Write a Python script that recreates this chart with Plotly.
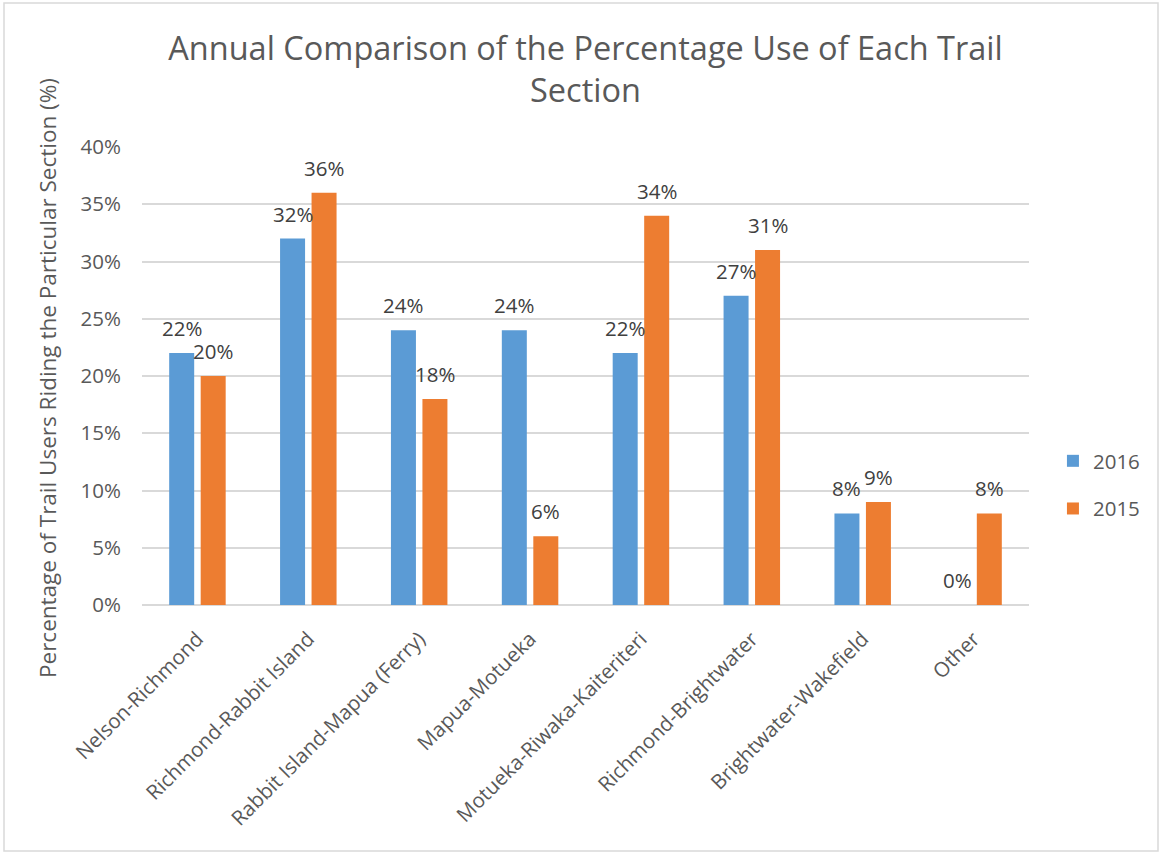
import plotly.graph_objects as go

sections = [
    "Nelson-Richmond",
    "Richmond-Rabbit Island",
    "Rabbit Island-Mapua (Ferry)",
    "Mapua-Motueka",
    "Motueka-Riwaka-Kaiteriteri",
    "Richmond-Brightwater",
    "Brightwater-Wakefield",
    "Other",
]
use_2016 = [22, 32, 24, 24, 22, 27, 8, 0]
use_2015 = [20, 36, 18, 6, 34, 31, 9, 8]
y_ticks = [0, 5, 10, 15, 20, 25, 30, 35, 40]
y_tick_labels = [f"{v}%" for v in y_ticks]

BLUE = "#5B9BD5"
ORANGE = "#ED7D31"
FONT = "Open Sans"
GREY = "#595959"

W, H = 1162, 853
L, R, T, B = 142, 133, 147, 248
plot_w = W - L - R
plot_h = H - T - B

BARGAP = 0.432
BARGROUPGAP = 0.206

fig = go.Figure()
series = [("2016", use_2016, BLUE), ("2015", use_2015, ORANGE)]
for name, vals, col in series:
    fig.add_trace(go.Bar(
        x=sections, y=vals, name=name, legendgroup=name,
        marker=dict(color=col, line=dict(width=0)),
        hoverinfo="x+y",
    ))

# value labels centred above each bar of the group
cat_w = plot_w / len(sections)
slot = (1 - BARGAP) * cat_w / 2
for i, (name, vals, col) in enumerate(series):
    shift = (i - 0.5) * slot
    for cat, v in zip(sections, vals):
        fig.add_annotation(
            x=cat, y=v, xref="x", yref="y", text=f"{v}%",
            showarrow=False, xshift=shift, yshift=25,
            xanchor="center", yanchor="middle",
            font=dict(family=FONT, size=20.5, color="#404040"),
        )

def px_x(p):
    return (p - L) / plot_w

def px_y(p):
    return (H - B - p) / plot_h

# vertical axis title
fig.add_annotation(
    x=px_x(47), y=px_y(378), xref="paper", yref="paper",
    text="Percentage of Trail Users Riding the Particular Section (%)",
    textangle=-90, showarrow=False, xanchor="center", yanchor="middle",
    font=dict(family=FONT, size=22.5, color=GREY),
)

# outer chart border
fig.add_shape(
    type="rect", xref="paper", yref="paper",
    x0=px_x(4), x1=px_x(1158), y0=px_y(851), y1=px_y(3),
    line=dict(color="#D9D9D9", width=1.5), fillcolor="rgba(0,0,0,0)",
    layer="below",
)

fig.update_layout(
    width=W, height=H,
    margin=dict(l=L, r=R, t=T, b=B, pad=0),
    paper_bgcolor="white", plot_bgcolor="white",
    barmode="group", bargap=BARGAP, bargroupgap=BARGROUPGAP,
    title=dict(
        text="Annual Comparison of the Percentage Use of Each Trail<br>Section",
        x=0.5, xref="paper", xanchor="center",
        y=1 - 60 / H, yref="container", yanchor="middle",
        font=dict(family=FONT, size=32.5, color=GREY),
    ),
    font=dict(family=FONT, color=GREY),
    showlegend=True,
    legend=dict(
        x=1.027, xanchor="left", y=px_y(485), yanchor="middle",
        font=dict(family=FONT, size=20.5, color=GREY),
        tracegroupgap=18, bgcolor="rgba(0,0,0,0)",
    ),
    xaxis=dict(
        tickangle=-45, tickfont=dict(family=FONT, size=20.5, color=GREY),
        showgrid=False, showline=False, ticks="", zeroline=False,
        ticklabelstandoff=17,
    ),
    yaxis=dict(
        range=[0, 40], tickvals=y_ticks, ticktext=y_tick_labels,
        tickfont=dict(family=FONT, size=20.5, color=GREY),
        showgrid=True, gridcolor="#D9D9D9", gridwidth=1.5,
        zeroline=True, zerolinecolor="#D9D9D9", zerolinewidth=1.5,
        showline=False, ticks="", ticklabelstandoff=20,
    ),
)

fig.write_html("out.html")
